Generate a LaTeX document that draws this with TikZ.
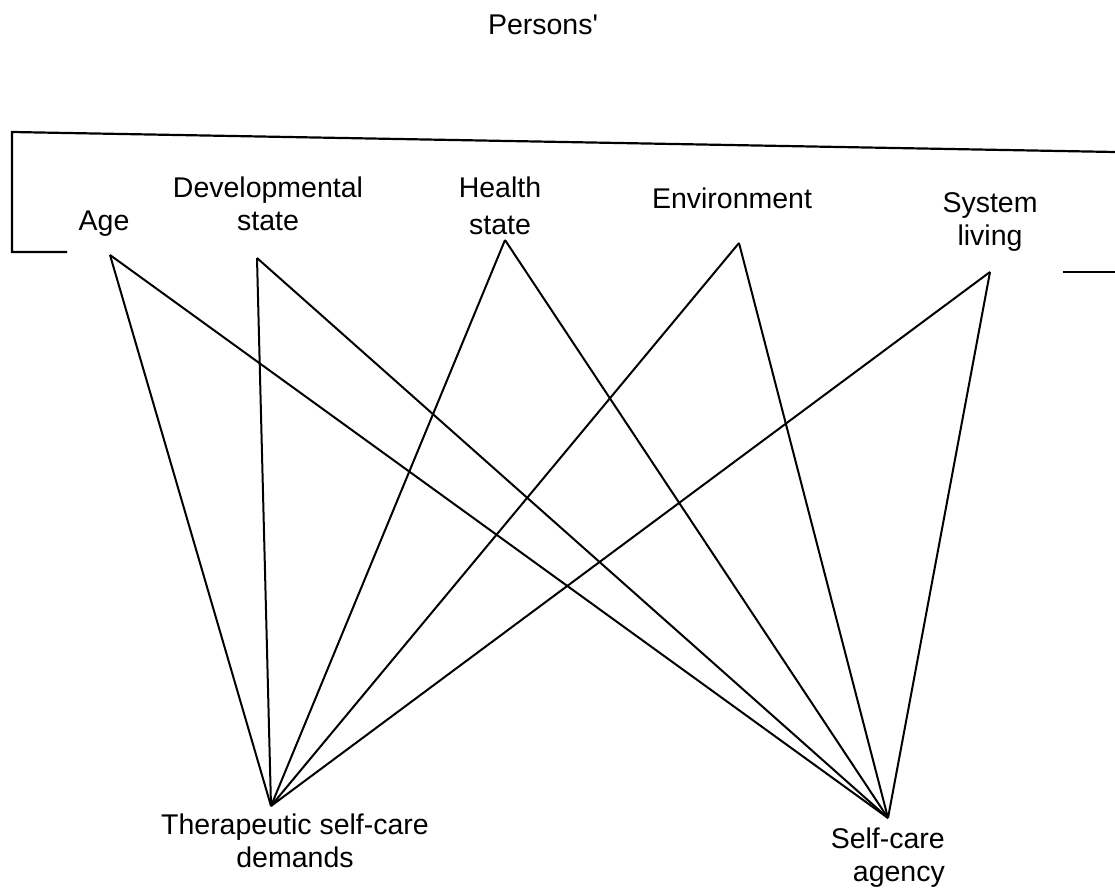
\documentclass[tikz,border=0pt]{standalone}
\usepackage{fontspec}
\setmainfont{Liberation Sans}

\begin{document}
\begin{tikzpicture}[x=1pt,y=-1pt]
\tikzstyle{every node}+=[inner sep=0pt]
\tikzstyle{lbl}=[anchor=north,align=center,font=\fontsize{28.5}{33}\selectfont]
\tikzstyle{link}=[black,line width=2pt]
\useasboundingbox (0,0) rectangle (1115,893);
% bracket round the factors
\draw [black,line width=2.2pt] (67,252) -- (12,252) -- (12,132) -- (1115,152);
\draw [black,line width=2.2pt] (1063,272) -- (1115,272);
% labels
\node [lbl] (persons) at (543,15) {Persons\textquotesingle};
\node [lbl] (agelbl) at (104,211) {Age};
\node [lbl] (devlbl) at (268,177) {Developmental\\state};
\node [lbl] (healbl) at (500,177) {Health\\[4pt]state};
\node [lbl] (envlbl) at (732,188) {Environment};
\node [lbl] (syslbl) at (990,192) {System\\living};
\node [lbl] (tsdlbl) at (295,814) {Therapeutic self-care\\demands};
\node [lbl,anchor=north east,align=right] (scalbl) at (945,828) {Self-care\\agency};
% end points of the links
\coordinate (age) at (110,255);
\coordinate (dev) at (257,258);
\coordinate (hea) at (505,240);
\coordinate (env) at (739,243);
\coordinate (sys) at (990,272);
\coordinate (tsd) at (271,806);
\coordinate (sca) at (888,818);
% links
\draw [link] (age) -- (tsd);
\draw [link] (age) -- (sca);
\draw [link] (dev) -- (tsd);
\draw [link] (dev) -- (sca);
\draw [link] (hea) -- (tsd);
\draw [link] (hea) -- (sca);
\draw [link] (env) -- (tsd);
\draw [link] (env) -- (sca);
\draw [link] (sys) -- (tsd);
\draw [link] (sys) -- (sca);
\end{tikzpicture}
\end{document}
